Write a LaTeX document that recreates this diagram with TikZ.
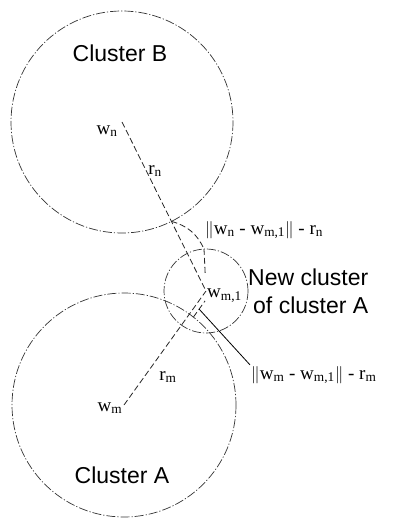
\documentclass[tikz,border=0pt]{standalone}
\usepackage{fontspec}
\setmainfont{Liberation Serif}
\newfontfamily\labelsans{Liberation Sans}
\usetikzlibrary{positioning,calc}

\begin{document}
\begin{tikzpicture}[x=1pt,y=-1pt,
	cluster/.style={draw=black!80, line width=0.7pt, dash pattern=on 9pt off 2pt on 1.2pt off 2pt},
	radline/.style={draw=black!85, line width=0.8pt, dash pattern=on 6pt off 3pt},
	leader/.style={draw=black, line width=0.8pt},
	title/.style={font=\labelsans\fontsize{23}{28}\selectfont, inner sep=0pt},
	sym/.style={font=\fontsize{19}{21}\selectfont, inner sep=1pt}]
	\useasboundingbox (0,0) rectangle (398,518);
	\coordinate (wn) at (122,122);
	\coordinate (wm) at (124,405);
	\coordinate (wm1) at (206,291);
	
	% clusters
	\draw[cluster] (wn) circle[radius=111];
	\draw[cluster] (wm) circle[radius=112];
	\draw[cluster] (wm1) circle[radius=42];
	
	\coordinate (bedge) at ($(wn)!111pt!(wm1)$);
	\coordinate (aedge) at ($(wm)!112pt!(wm1)$);
	\coordinate (ntop) at ($(wm1)+(-2,-42)$);
	\coordinate (lstart) at (199,309);
	
	\node[title, anchor=base] (clB) at (120,62) {Cluster B};
	\node[title, anchor=base] (clA) at (122,483) {Cluster A};
	\node[title, anchor=base west] (new1) at (248,285) {New cluster};
	\node[title, anchor=base west] (new2) at (253,313) {of cluster A};
	
	\node[sym] (wnlab) at (107,131) {w\textsubscript{n}};
	\node[sym] (rnlab) at (155,171) {r\textsubscript{n}};
	\node[sym, anchor=west] (wm1lab) at (206,296) {w\textsubscript{m,1}};
	\node[sym] (rmlab) at (168,377) {r\textsubscript{m}};
	\node[sym] (wmlab) at (110,408) {w\textsubscript{m}};
	\node[sym, anchor=west] (dimB) at (204,230) {$\Vert$w\textsubscript{n} - w\textsubscript{m,1}$\Vert$ - r\textsubscript{n}};
	\node[sym, anchor=west] (dimA) at (250,375) {$\Vert$w\textsubscript{m} - w\textsubscript{m,1}$\Vert$ - r\textsubscript{m}};
	
	% radii
	\draw[radline] (wn) -- (wm1);
	\draw[radline] (wm) -- (wm1);
	\draw[radline] (bedge) to[bend left=25] (ntop);
	\draw[radline] (ntop) -- ($(ntop)!0.6!(wm1)$);
	\draw[radline] ($(aedge)+(4,3)$) -- ($(aedge)!0.7!(wm1)+(4,3)$);
	\draw[leader] (lstart) -- (dimA.north west);
\end{tikzpicture}
\end{document}
